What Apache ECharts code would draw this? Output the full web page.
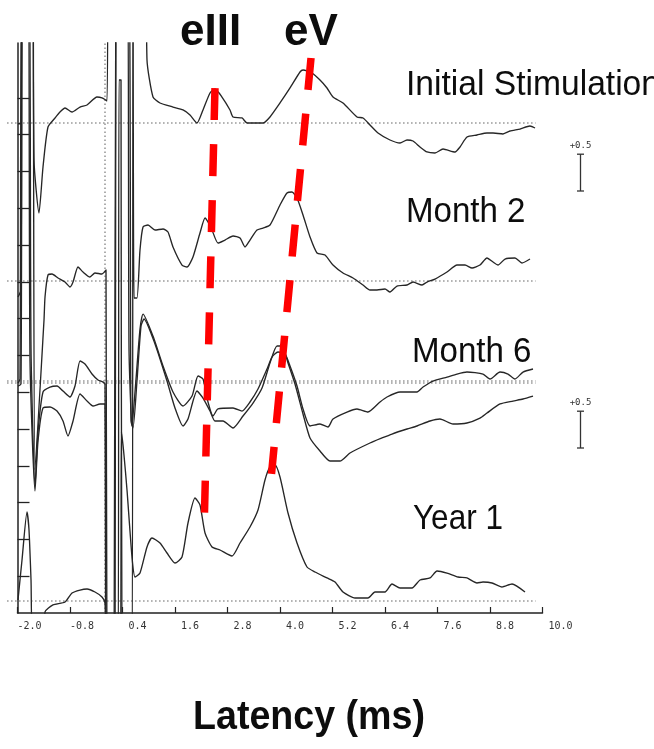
<!DOCTYPE html>
<html>
<head>
<meta charset="utf-8">
<script src="https://cdn.jsdelivr.net/npm/echarts@6/dist/echarts.min.js"></script>
<style>
  html, body { margin: 0; padding: 0; background: #fff; }
  #chart { width: 654px; height: 749px; }
</style>
</head>
<body>
<div id="chart"></div>
<script>
// Latency axis ticks (ms)
const latencyTicks = [-2.0, -0.8, 0.4, 1.6, 2.8, 4.0, 5.2, 6.4, 7.6, 8.8, 10.0];
// Amplitude ticks on the left axis (µV)
const amplitudeTicks = [0.5, 1.0, 1.5, 2.0, 2.5, 3.0, 3.5, 4.0, 4.5, 5.0, 5.5, 6.0, 6.5, 7.0];

// Each recording: [latency (ms), amplitude (µV) relative to its own baseline]
const initialStimulation = [
  [-1.989,-0.01],[-1.920,-0.01],[-1.874,4],[-1.669,4],[-1.623,-0.503],[-1.509,-1.223],[-1.417,-0.598],
  [-1.303,-0.054],[-1.143,0.068],[-1.029,0.149],[-0.914,0.204],[-0.754,0.149],[-0.571,0.217],[-0.411,0.245],
  [-0.183,0.353],[-0.069,0.340],[0.046,0.299],[0.091,4],[0.891,4],[0.960,0.856],[1.097,0.353],[1.257,0.272],
  [1.554,0.217],[1.783,0.177],[1.943,0.109],[2.103,0],[2.240,0.177],[2.400,0.408],[2.514,0.462],[2.674,0.353],
  [2.857,0.177],[2.926,0.082],[3.131,0.068],[3.246,0],[3.611,0],[3.771,0.082],[4.000,0.272],[4.229,0.476],
  [4.457,0.693],[4.526,0.720],[4.731,0.679],[4.914,0.584],[5.074,0.476],[5.211,0.353],[5.440,0.272],
  [5.760,0.082],[5.897,0.068],[6.057,-0.027],[6.240,-0.136],[6.514,-0.231],[6.743,-0.272],[6.903,-0.231],
  [7.040,-0.245],[7.200,-0.326],[7.360,-0.394],[7.543,-0.408],[7.726,-0.353],[8.000,-0.394],[8.114,-0.326],
  [8.274,-0.190],[8.503,-0.163],[8.731,-0.136],[8.869,-0.136],[9.097,-0.149],[9.257,-0.109],[9.486,-0.082],
  [9.714,-0.041],[9.829,-0.068]
];

const month2 = [
  [-1.989,-0.217],[-1.920,-0.122],[-1.874,5],[-1.669,5],[-1.600,-2.568],[-1.394,-0.530],[-1.371,-0.217],
  [-1.303,0.082],[-1.211,0.095],[-1.074,0.041],[-0.914,-0.014],[-0.800,-0.082],[-0.731,-0.014],[-0.617,0.190],
  [-0.503,0.122],[-0.343,0.054],[-0.229,0.109],[-0.069,0.095],[0.023,0.149],[0.046,-5.5],[0.297,-5.5],
  [0.320,2.731],[0.366,2.731],[0.389,-5.5],[0.617,-5.5],[0.640,5],[0.663,-0.231],[0.731,-0.231],[0.800,0.421],
  [0.869,0.734],[0.983,0.761],[1.143,0.693],[1.326,0.707],[1.440,0.666],[1.554,0.462],[1.760,0.217],
  [1.874,0.190],[2.011,0.326],[2.171,0.652],[2.286,0.856],[2.354,0.802],[2.446,0.693],[2.583,0.516],
  [2.743,0.557],[2.926,0.611],[3.086,0.584],[3.200,0.462],[3.314,0.557],[3.474,0.693],[3.611,0.720],
  [3.771,0.761],[4.000,1.033],[4.160,1.196],[4.274,1.209],[4.389,1.128],[4.526,0.897],[4.686,0.598],
  [4.846,0.380],[5.029,0.353],[5.211,0.217],[5.440,0.109],[5.669,0.041],[5.897,-0.054],[6.057,-0.122],
  [6.217,-0.122],[6.400,-0.109],[6.514,-0.149],[6.674,-0.068],[6.903,-0.054],[7.040,-0.014],[7.246,-0.054],
  [7.360,-0.014],[7.543,0.027],[7.817,0.122],[8.046,0.217],[8.229,0.217],[8.389,0.177],[8.571,0.217],
  [8.731,0.313],[8.869,0.258],[8.983,0.217],[9.143,0.299],[9.371,0.313],[9.531,0.245],[9.714,0.299]
];

// Month 6 was recorded twice (two overlaid runs)
const month6RunA = [
  [-1.989,-0.068],[-1.920,-0.041],[-1.874,6],[-1.737,6],[-1.691,0.435],[-1.600,-1.427],[-1.531,-0.693],
  [-1.417,-0.149],[-1.257,-0.082],[-1.097,-0.068],[-0.960,-0.136],[-0.800,-0.217],[-0.686,-0.068],
  [-0.571,0.272],[-0.457,0.231],[-0.297,0.095],[-0.160,0.014],[-0.046,-0.014],[0.000,-0.041],[0.046,-4.3],
  [0.206,-4.3],[0.251,6],[0.503,6],[0.549,0.435],[0.617,-0.611],[0.709,0.027],[0.800,0.707],[0.869,0.910],
  [1.097,0.611],[1.326,0.204],[1.554,-0.149],[1.783,-0.340],[1.989,-0.204],[2.126,0.068],[2.240,0.027],
  [2.354,-0.285],[2.469,-0.476],[2.583,-0.380],[2.926,-0.367],[3.131,-0.408],[3.314,-0.285],[3.497,-0.109],
  [3.703,0.163],[3.817,0.326],[3.954,0.394],[4.114,0.367],[4.229,0.204],[4.389,-0.068],[4.526,-0.380],
  [4.686,-0.611],[4.914,-0.584],[5.097,-0.625],[5.211,-0.516],[5.531,-0.421],[5.760,-0.380],[6.011,-0.421],
  [6.286,-0.285],[6.446,-0.217],[6.743,-0.149],[7.131,-0.149],[7.269,-0.082],[7.497,0],[7.817,0.054],
  [8.046,0.095],[8.274,0.122],[8.640,0.095],[8.800,0.027],[9.029,0.122],[9.211,0.095],[9.371,0.027],
  [9.554,0.122],[9.783,0.163]
];

const month6RunB = [
  [-1.989,0],[-1.943,0.054],[-1.897,6],[-1.760,6],[-1.714,0.299],[-1.600,-1.467],[-1.531,-0.788],
  [-1.417,-0.340],[-1.257,-0.326],[-1.097,-0.380],[-0.960,-0.516],[-0.846,-0.720],[-0.731,-0.516],
  [-0.571,-0.149],[-0.411,-0.245],[-0.274,-0.313],[-0.114,-0.285],[0.000,-0.285],[0.023,-4.3],[0.229,-4.3],
  [0.251,6],[0.526,6],[0.594,-0.516],[0.640,-0.611],[0.731,0.027],[0.823,0.774],[0.891,0.870],[1.143,0.530],
  [1.417,0.027],[1.600,-0.340],[1.783,-0.584],[1.897,-0.489],[2.103,-0.109],[2.240,-0.204],[2.400,-0.380],
  [2.514,-0.516],[2.697,-0.516],[2.926,-0.611],[3.154,-0.448],[3.383,-0.272],[3.589,-0.068],[3.771,0.272],
  [3.931,0.503],[4.046,0.503],[4.183,0.272],[4.343,-0.014],[4.526,-0.421],[4.686,-0.747],[4.914,-0.924],
  [5.143,-1.060],[5.371,-1.060],[5.600,-0.951],[6.057,-0.815],[6.331,-0.747],[6.560,-0.693],[6.903,-0.625],
  [7.131,-0.584],[7.429,-0.516],[7.657,-0.489],[7.954,-0.557],[8.274,-0.543],[8.571,-0.476],[8.731,-0.408],
  [9.029,-0.285],[9.326,-0.245],[9.554,-0.217],[9.783,-0.177]
];

const year1 = [
  [-1.989,0.014],[-1.897,0.557],[-1.783,1.209],[-1.737,0.965],[-1.691,0.285],[-1.646,-0.5],[-1.394,-0.5],
  [-1.371,-0.149],[-1.189,-0.054],[-0.914,-0.014],[-0.754,0.109],[-0.571,0.149],[-0.411,0.163],
  [-0.229,0.122],[-0.069,0.054],[0.000,-0.027],[0.046,-0.53],[0.343,-0.53],[0.377,2.296],[0.434,1.984],
  [0.503,1.508],[0.617,0.598],[0.686,0.326],[0.800,0.380],[0.960,0.734],[1.074,0.856],[1.257,0.788],
  [1.417,0.652],[1.600,0.516],[1.760,0.598],[1.897,1.060],[2.057,1.399],[2.171,1.304],[2.286,0.924],
  [2.446,0.734],[2.629,0.693],[2.903,0.611],[3.086,0.788],[3.314,1.005],[3.497,1.236],[3.657,1.644],
  [3.771,1.821],[3.886,1.848],[4.000,1.685],[4.183,1.196],[4.389,0.788],[4.617,0.462],[4.800,0.394],
  [5.074,0.313],[5.257,0.258],[5.440,0.122],[5.714,0.041],[6.011,0.041],[6.171,0.122],[6.400,0.122],
  [6.560,0.231],[6.743,0.177],[7.017,0.177],[7.200,0.285],[7.429,0.313],[7.589,0.408],[7.817,0.380],
  [8.069,0.326],[8.274,0.313],[8.503,0.245],[8.640,0.258],[8.846,0.245],[9.074,0.190],[9.303,0.231],
  [9.600,0.122]
];

const recordingNames = ['Initial Stimulation', 'Month 2', 'Month 6', 'Year 1'];

// Wave markers: endpoints [latency (ms), µV on the stacked axis]
const eIIIMarker = [[2.514, 7.133], [2.274, 1.359]];
const eVMarker = [[4.709, 7.541], [3.806, 1.889]];

// Calibration bar height (µV)
const scaleBarUV = 0.5;

// ---- layout (stack offsets on the µV axis) ----
const AXIS_MAX = 7.745;
const stack = [
  { data: initialStimulation, base: 6.658 },
  { data: month2, base: 4.511 },
  { data: month6RunA, base: 3.152 },
  { data: month6RunB, base: 3.125 },
  { data: year1, base: 0.163 }
];
const BASE_FROM = -2.24, BASE_TO = 9.84;
const SCALE_BAR_T = 10.86;
const scaleBarBases = [5.734, 2.242];
const DOT = [1.6, 2.4];

const series = [];

// dotted baselines (drawn past the axis on the left, so not clipped)
series.push({
  type: 'custom', silent: true, z: 1,
  data: stack.map(function (s) { return [BASE_FROM, BASE_TO, s.base]; }),
  encode: { x: [0, 1], y: 2 },
  renderItem: function (params, api) {
    const a = api.coord([api.value(0), api.value(2)]);
    const b = api.coord([api.value(1), api.value(2)]);
    return { type: 'line', shape: { x1: a[0], y1: a[1], x2: b[0], y2: b[1] },
      style: { stroke: '#6a6a6a', lineWidth: 1.1, lineDash: DOT } };
  }
});

// stimulus onset marker
series.push({
  type: 'line', silent: true, symbol: 'none', z: 1,
  data: [[0, 0], [0, AXIS_MAX]],
  lineStyle: { color: '#6a6a6a', width: 1.1, type: DOT }
});

// recordings
stack.forEach(function (s) {
  series.push({
    type: 'line', silent: true, symbol: 'none', z: 3, smooth: 0.2,
    data: s.data.map(function (p) { return [p[0], p[1] + s.base]; }),
    lineStyle: { color: '#262626', width: 1.35, join: 'round' }
  });
});

// eIII and eV markers
[[eIIIMarker, [32, 24.1]], [eVMarker, [32, 23.8]]].forEach(function (m) {
  series.push({
    type: 'line', silent: true, symbol: 'none', z: 5,
    data: m[0],
    lineStyle: { color: '#ff0000', width: 7.5, type: m[1], cap: 'butt' }
  });
});

// calibration bars (right of the plot area)
series.push({
  type: 'custom', silent: true, z: 4,
  data: scaleBarBases.map(function (b) { return [SCALE_BAR_T, b, b + scaleBarUV]; }),
  encode: { x: 0, y: [1, 2] },
  renderItem: function (params, api) {
    const lo = api.coord([api.value(0), api.value(1)]);
    const hi = api.coord([api.value(0), api.value(2)]);
    const x = Math.round(lo[0]) + 0.5;
    const st = { stroke: '#333', lineWidth: 1.3 };
    return { type: 'group', children: [
      { type: 'line', shape: { x1: x, y1: lo[1], x2: x, y2: hi[1] }, style: st },
      { type: 'line', shape: { x1: x - 3.5, y1: lo[1], x2: x + 3.5, y2: lo[1] }, style: st },
      { type: 'line', shape: { x1: x - 3.5, y1: hi[1], x2: x + 3.5, y2: hi[1] }, style: st },
      { type: 'text', x: x, y: hi[1] - 4, style: {
          text: '+' + scaleBarUV.toFixed(1), fill: '#333',
          font: '9px "DejaVu Sans Mono", monospace', align: 'center', verticalAlign: 'bottom' } }
    ] };
  }
});

function caption(text, x, y, size, weight, align, sx) {
  return {
    type: 'text', x: x, y: y, scaleX: sx, z: 10,
    style: {
      text: text, fill: '#0d0d0d',
      font: weight + ' ' + size + 'px "Liberation Sans", Arial, sans-serif',
      textAlign: align, align: align, textVerticalAlign: 'middle', verticalAlign: 'middle'
    }
  };
}

const chart = echarts.init(document.getElementById('chart'), null, { renderer: 'canvas' });
chart.setOption({
  animation: false,
  backgroundColor: '#fff',
  grid: { left: 17.5, right: 111.5, top: 43, bottom: 136, outerBoundsMode: 'none' },
  xAxis: {
    type: 'value', min: -2, max: 10,
    axisLine: { onZero: false, lineStyle: { color: '#222', width: 1.5 } },
    axisTick: { inside: true, length: 6, customValues: latencyTicks, lineStyle: { color: '#222', width: 1.2 } },
    axisLabel: {
      customValues: latencyTicks, align: 'left', margin: 8,
      fontFamily: 'DejaVu Sans Mono', fontSize: 10, color: '#333',
      formatter: function (v) { return (v < 0 ? '' : ' ') + v.toFixed(1); }
    },
    splitLine: { show: false }
  },
  yAxis: {
    type: 'value', min: 0, max: AXIS_MAX,
    axisLine: { show: true, onZero: false, lineStyle: { color: '#222', width: 1.5 } },
    axisTick: { show: true, inside: true, length: 12, customValues: amplitudeTicks, lineStyle: { color: '#222', width: 1.3 } },
    axisLabel: { show: false },
    splitLine: { show: false }
  },
  series: series,
  graphic: [
    caption('eIII', 180, 33, 44, 'bold', 'left', 1),
    caption('eV', 284, 33, 44, 'bold', 'left', 1),
    caption(recordingNames[0], 406, 85, 35, 'normal', 'left', 0.96),
    caption(recordingNames[1], 406, 212, 35, 'normal', 'left', 0.945),
    caption(recordingNames[2], 412, 352, 35, 'normal', 'left', 0.945),
    caption(recordingNames[3], 413, 519, 35, 'normal', 'left', 0.9),
    caption('Latency (ms)', 309, 718, 40, 'bold', 'center', 0.94)
  ]
});
</script>
</body>
</html>
